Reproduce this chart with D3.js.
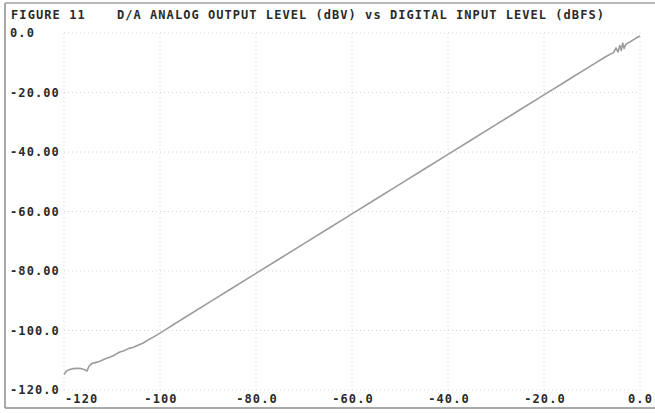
<!DOCTYPE html>
<html>
<head>
<meta charset="utf-8">
<script src="https://cdn.jsdelivr.net/npm/d3@7"></script>
<style>
  html, body { margin: 0; padding: 0; background: #ffffff; }
  svg { display: block; }
  text { font-family: "DejaVu Sans Mono", "Liberation Mono", monospace; font-weight: bold; fill: #2a2a2a; }
</style>
</head>
<body>
<svg id="chart" width="655" height="413"></svg>
<script>
// ---- data ----
const figureLabel = "FIGURE 11";
const chartTitle = "D/A ANALOG OUTPUT LEVEL (dBV) vs DIGITAL INPUT LEVEL (dBFS)";

const xTicks = [-120, -100, -80, -60, -40, -20, 0];
const xTickLabels = ["-120", "-100", "-80.0", "-60.0", "-40.0", "-20.0", "0.0"];
const yTicks = [0, -20, -40, -60, -80, -100, -120];
const yTickLabels = ["0.0", "-20.00", "-40.00", "-60.00", "-80.00", "-100.0", "-120.0"];

// digital input level (dBFS)
const inputLevel = [-120, -119.5, -118.8, -118, -117, -116.2, -115.6, -115.2, -114.8, -114.3, -113.5, -112.5,
  -111.5, -110.5, -109.5, -108.5, -107.5, -106.5, -105.5, -104.5, -103.5, -102.5, -101.5, -100.5,
  -100, -95, -90, -85, -80, -75, -70, -65, -60, -55, -50, -45, -40, -35, -30, -25, -20, -15, -10,
  -7, -5.5, -5.0, -4.6, -4.2, -3.9, -3.6, -3.3, -3.0, -2.6, -2.2, -1.5, -0.8, 0];
// analog output level (dBV)
const outputLevel = [-114.8, -113.6, -113.1, -112.8, -112.7, -112.9, -113.3, -113.6, -112.0, -111.2, -110.8, -110.3,
  -109.6, -109.0, -108.3, -107.3, -106.8, -106.0, -105.6, -104.9, -104.2, -103.2, -102.3, -101.4,
  -100.9, -95.8, -90.8, -85.8, -80.8, -75.8, -70.8, -65.8, -60.8, -55.8, -50.8, -45.8, -40.8, -35.8, -30.8, -25.8, -20.8, -15.8, -10.8,
  -7.8, -6.6, -5.0, -6.4, -4.2, -5.9, -3.4, -5.2, -3.9, -3.4, -3.1, -2.4, -1.7, -1.0];

// ---- drawing ----
const svg = d3.select("#chart");
const x = d3.scaleLinear().domain([-120, 0]).range([64, 640]);
const y = d3.scaleLinear().domain([-120, 0]).range([390, 33]);

// outer frame (scan border)
svg.append("line").attr("x1", 5).attr("x2", 5).attr("y1", 3).attr("y2", 408)
  .attr("stroke", "#8c8c8c").attr("stroke-width", 1.5);
svg.append("line").attr("x1", 5).attr("x2", 655).attr("y1", 3).attr("y2", 3)
  .attr("stroke", "#a0a0a0").attr("stroke-width", 1.5);
svg.append("line").attr("x1", 5).attr("x2", 655).attr("y1", 408).attr("y2", 408)
  .attr("stroke", "#8c8c8c").attr("stroke-width", 1.5);

// grid
const grid = svg.append("g").attr("class", "grid");
grid.selectAll("line.v").data(xTicks).join("line").attr("class", "v")
  .attr("x1", d => x(d)).attr("x2", d => x(d))
  .attr("y1", y(0)).attr("y2", y(-120))
  .attr("stroke", "#d4d4d4").attr("stroke-width", 1).attr("stroke-dasharray", "1,3");
grid.selectAll("line.h").data(yTicks).join("line").attr("class", "h")
  .attr("x1", x(-120)).attr("x2", x(0))
  .attr("y1", d => y(d)).attr("y2", d => y(d))
  .attr("stroke", "#d4d4d4").attr("stroke-width", 1).attr("stroke-dasharray", "1,3");

// titles
svg.append("text").attr("x", 11).attr("y", 15).attr("dy", "0.35em")
  .attr("font-size", 12).attr("letter-spacing", 1.1).text(figureLabel);
svg.append("text").attr("x", 117).attr("y", 15).attr("dy", "0.35em")
  .attr("font-size", 12).attr("letter-spacing", 1.1)
  .attr("textLength", 488).attr("lengthAdjust", "spacing").text(chartTitle);

// y tick labels
svg.append("g").selectAll("text").data(yTicks).join("text")
  .attr("x", 10).attr("y", d => y(d)).attr("dy", "0.35em")
  .attr("font-size", 12).attr("letter-spacing", 1.1)
  .text((d, i) => yTickLabels[i]);

// x tick labels
svg.append("g").selectAll("text").data(xTicks).join("text")
  .attr("x", (d, i) => i === 0 ? x(d) + 1 : (i === xTicks.length - 1 ? 653 : x(d) + 1))
  .attr("y", 399).attr("dy", "0.35em")
  .attr("text-anchor", (d, i) => i === 0 ? "start" : (i === xTicks.length - 1 ? "end" : "middle"))
  .attr("font-size", 12).attr("letter-spacing", 1.1)
  .text((d, i) => xTickLabels[i]);

// data line
const pts = inputLevel.map((v, i) => [v, outputLevel[i]]);
const line = d3.line().x(d => x(d[0])).y(d => y(d[1])).curve(d3.curveLinear);
svg.append("path").datum(pts)
  .attr("fill", "none").attr("stroke", "#9c9c9c").attr("stroke-width", 1.6)
  .attr("stroke-linejoin", "round").attr("d", line);
</script>
</body>
</html>
